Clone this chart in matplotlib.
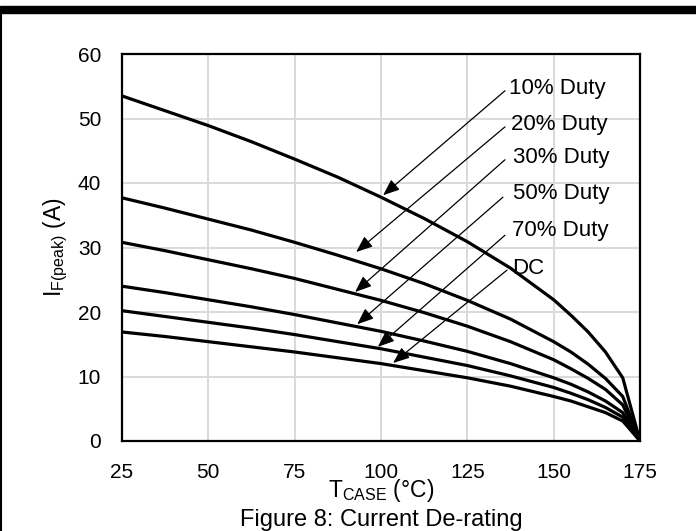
"""Current de-rating curves (Figure 8). Writes out.png."""
import matplotlib
matplotlib.use("Agg")
import matplotlib.pyplot as plt
from matplotlib.patches import Rectangle
from matplotlib.lines import Line2D

plt.rcParams["font.family"] = ["Liberation Sans", "DejaVu Sans"]
plt.rcParams["mathtext.fontset"] = "custom"
plt.rcParams["mathtext.rm"] = "Liberation Sans"
plt.rcParams["mathtext.it"] = "Liberation Sans"

# case temperature (degC)
t_case = [25, 37.5, 50, 62.5, 75, 87.5, 100, 112.5, 125, 137.5, 150, 155, 160, 165, 170, 175]

# peak forward current (A) per duty cycle
duty_10 = [53.5, 51.2, 48.9, 46.4, 43.7, 40.9, 37.8, 34.5, 30.9, 26.8, 21.9, 19.5, 16.9, 13.8, 9.8, 0]
duty_20 = [37.7, 36.1, 34.4, 32.7, 30.8, 28.8, 26.7, 24.4, 21.8, 18.9, 15.4, 13.8, 11.9, 9.7, 6.9, 0]
duty_30 = [30.8, 29.5, 28.1, 26.7, 25.2, 23.5, 21.8, 19.9, 17.8, 15.4, 12.6, 11.2, 9.7, 8.0, 5.6, 0]
duty_50 = [24.0, 23.0, 21.9, 20.8, 19.6, 18.3, 17.0, 15.5, 13.9, 12.0, 9.8, 8.8, 7.6, 6.2, 4.4, 0]
duty_70 = [20.2, 19.3, 18.4, 17.5, 16.5, 15.4, 14.3, 13.0, 11.7, 10.1, 8.3, 7.4, 6.4, 5.2, 3.7, 0]
duty_dc = [16.9, 16.2, 15.4, 14.6, 13.8, 12.9, 12.0, 10.9, 9.8, 8.5, 6.9, 6.2, 5.3, 4.4, 3.1, 0]

labels = ["10% Duty", "20% Duty", "30% Duty", "50% Duty", "70% Duty", "DC"]
# callout text anchor (T, I), arrow tail and arrow tip (T, I)
label_pos = [(137.1, 54.7), (137.6, 49.0), (138.2, 44.0), (138.2, 38.3), (137.9, 32.6), (137.9, 26.8)]
arrow_start = [(135.9, 54.3), (135.9, 48.7), (135.9, 43.6), (135.3, 37.8), (135.9, 31.9), (136.5, 26.5)]
arrow_tip = [(100.6, 38.1), (92.8, 29.3), (92.5, 23.1), (93.1, 18.1), (99.1, 14.6), (103.5, 12.1)]

x_ticks = [25, 50, 75, 100, 125, 150, 175]
y_ticks = [0, 10, 20, 30, 40, 50, 60]


def main():
    fig = plt.figure(figsize=(6.96, 5.31), dpi=100)
    ax = fig.add_axes([122 / 696, 1 - 441 / 531, 518 / 696, 387 / 531])

    for ys in [duty_10, duty_20, duty_30, duty_50, duty_70, duty_dc]:
        ax.plot(t_case, ys, color="black", lw=2.3, solid_joinstyle="miter", zorder=3)

    for lab, (tx, ty), (sx, sy), (hx, hy) in zip(labels, label_pos, arrow_start, arrow_tip):
        ax.text(tx, ty, lab, fontsize=16, ha="left", va="center", zorder=5)
        ax.annotate("", xy=(hx, hy), xytext=(sx, sy),
                    arrowprops=dict(arrowstyle="-|>,head_length=1.0,head_width=0.4",
                                    color="black", lw=0.9, shrinkA=0, shrinkB=0),
                    zorder=4)

    ax.set_xlim(25, 175)
    ax.set_ylim(0, 60)
    ax.set_xticks(x_ticks)
    ax.set_yticks(y_ticks)
    ax.grid(True, color="#d9d9d9", lw=1.4)
    ax.set_axisbelow(True)
    ax.tick_params(length=0, labelsize=15)
    ax.tick_params(axis="x", pad=16)
    ax.tick_params(axis="y", pad=15)
    for sp in ax.spines.values():
        sp.set_linewidth(1.6)
        sp.set_color("black")

    ax.set_ylabel(r"I$_{\mathrm{F(peak)}}$ (A)", fontsize=16.5)
    ax.yaxis.set_label_coords(-0.10, 0.5)
    fig.text(381 / 696, 1 - 491 / 531, r"T$_{\mathrm{CASE}}$ ($\degree$C)",
             fontsize=16.5, ha="center", va="center")
    fig.text(381 / 696, 1 - 520 / 531, "Figure 8: Current De-rating",
             fontsize=17, ha="center", va="center")

    # page frame: thick top band and thin left rule
    fig.patches.append(Rectangle((0, 1 - 13 / 531), 1, 7 / 531, transform=fig.transFigure,
                                 color="black", zorder=10))
    fig.lines.append(Line2D([1 / 696, 1 / 696], [0, 1 - 13 / 531], transform=fig.transFigure,
                            color="black", lw=1.5))

    fig.savefig("out.png", dpi=100)
    plt.close(fig)


if __name__ == "__main__":
    main()
